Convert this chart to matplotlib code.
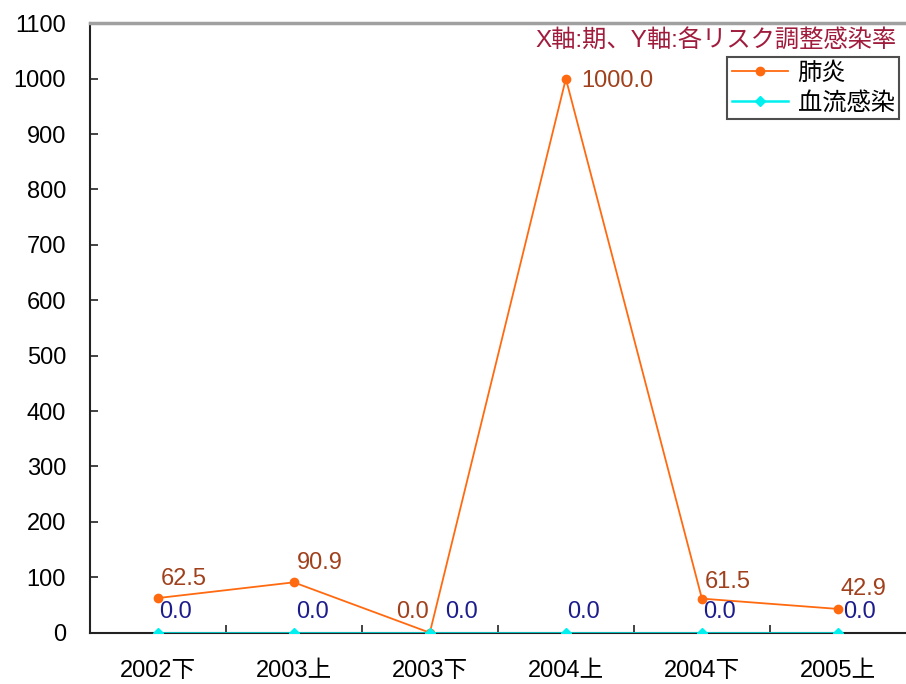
import numpy as np
import matplotlib
matplotlib.use("Agg")
import matplotlib.pyplot as plt

plt.rcParams['font.family'] = ['Liberation Sans', 'Noto Sans CJK JP']

periods = ['2002下', '2003上', '2003下', '2004上', '2004下', '2005上']
pneumonia = [62.5, 90.9, 0.0, 1000.0, 61.5, 42.9]
bloodstream = [0.0, 0.0, 0.0, 0.0, 0.0, 0.0]
yticks = list(range(0, 1101, 100))

# label offsets (points) to mimic the original placement
pn_off = [(2, 14, 'left'), (2, 14, 'left'), (-1, 15, 'right'), (11, -2, 'left'), (2, 12, 'left'), (2, 14, 'left')]
bs_off = [(1, 15), (2, 15), (11, 15), (1, 15), (1, 15), (4, 15)]

fig = plt.figure(figsize=(9.06, 6.84), dpi=100)
ax = fig.add_axes([0.099, 0.075, 0.901, 0.891])

x = np.arange(len(periods))
ax.plot(x, pneumonia, color='#ff6a10', marker='o', markersize=6, lw=1.3, label='肺炎', zorder=3)
ax.plot(x, bloodstream, color='#00f0f0', marker='D', markersize=5.5, lw=1.8, label='血流感染', zorder=3)

for xi, v, (dx, dy, ha) in zip(x, pneumonia, pn_off):
    ax.annotate(f'{v:.1f}', (xi, v), xytext=(dx, dy), textcoords='offset points',
                color='#a0401c', fontsize=17, ha=ha, va='center')
for xi, v, (dx, dy) in zip(x, bloodstream, bs_off):
    ax.annotate(f'{v:.1f}', (xi, v), xytext=(dx, dy), textcoords='offset points',
                color='#1c1c8c', fontsize=17, ha='left', va='center')

ax.set_xlim(-0.5, len(periods) - 0.5)
ax.set_ylim(0, 1100)
ax.set_yticks(yticks)
ax.set_xticks(x)
ax.set_xticklabels(periods, fontsize=17)
ax.tick_params(axis='x', length=0, pad=20)
ax.set_xticks(np.arange(0.5, len(periods) - 0.5, 1), minor=True)
ax.tick_params(axis='x', which='minor', direction='in', length=6, width=1.2, color='#222222')
ax.tick_params(axis='y', direction='in', length=6, width=1.2, labelsize=17, pad=17, color='#222222')

ax.spines['right'].set_visible(False)
ax.spines['top'].set_color('#a0a0a0')
ax.spines['top'].set_linewidth(2.5)
ax.spines['left'].set_linewidth(1.5)
ax.spines['bottom'].set_linewidth(1.5)
ax.spines['left'].set_color('#222222')
ax.spines['bottom'].set_color('#222222')

ax.text(0.988, 0.99, 'X軸:期、Y軸:各リスク調整感染率', transform=ax.transAxes,
        ha='right', va='top', color='#a01c3c', fontsize=17.5)
leg = ax.legend(loc='upper right', bbox_to_anchor=(0.992, 0.944), fontsize=17.5,
                frameon=True, fancybox=False, edgecolor='#222222', borderpad=0.2,
                handlelength=2.3, handletextpad=0.4, labelspacing=0.28, borderaxespad=0)
leg.get_frame().set_linewidth(1.5)

fig.savefig('out.png', dpi=100)
